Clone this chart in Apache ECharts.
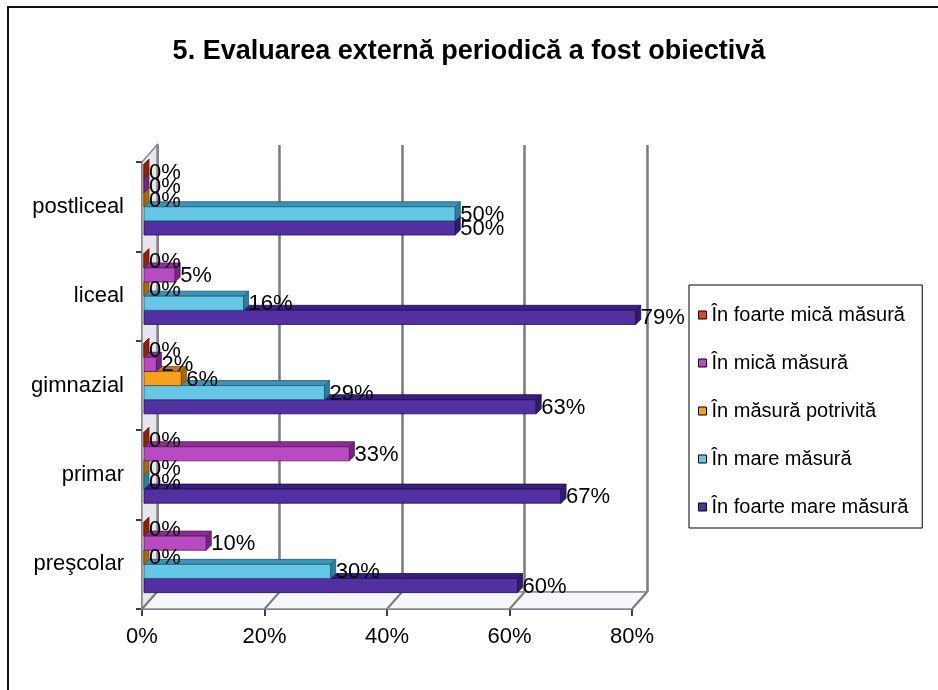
<!DOCTYPE html>
<html>
<head>
<meta charset="utf-8">
<script src="https://cdn.jsdelivr.net/npm/echarts@6/dist/echarts.min.js"></script>
<style>
  html, body { margin: 0; padding: 0; background: #fff; }
  #chart { width: 938px; height: 690px; }
</style>
</head>
<body>
<div id="chart"></div>
<script>
// Survey answers per school level (percent of respondents)
const categories = ['preşcolar', 'primar', 'gimnazial', 'liceal', 'postliceal'];
const seriesNames = [
  'În foarte mică măsură',
  'În mică măsură',
  'În măsură potrivită',
  'În mare măsură',
  'În foarte mare măsură'
];
const foarteMica = [0, 0, 0, 0, 0];
const mica = [10, 33, 2, 5, 0];
const potrivita = [0, 0, 6, 0, 0];
const mare = [30, 0, 29, 16, 50];
const foarteMare = [60, 67, 63, 79, 50];
const xTicks = [0, 20, 40, 60, 80];

const FONT = "'Liberation Sans', Arial, sans-serif";

// face colours: front, top, side, outline
const palette = [
  { front: '#E2421E', top: '#A82C12', side: '#8E240C', line: '#6A1A08' },
  { front: '#B84AC2', top: '#8A2E94', side: '#74267E', line: '#561C5E' },
  { front: '#F5A01E', top: '#C27A12', side: '#A8680E', line: '#7A4A08' },
  { front: '#66C6E6', top: '#3A94B6', side: '#2E7E9C', line: '#1E5A70' },
  { front: '#5230A2', top: '#3A1E80', side: '#321A6E', line: '#20104A' }
];
const valueSets = [foarteMica, mica, potrivita, mare, foarteMare];

const DEPTH = 5;       // bar extrusion
const WALL_DX = 15;    // frame depth offset
const WALL_DY = -17;

function barRenderer(idx) {
  const col = palette[idx];
  return function (params, api) {
    const v = api.value(0);
    const cat = api.value(1);
    const start = api.coord([0, cat]);
    const end = api.coord([v, cat]);
    const band = api.size([0, 1])[1];
    const step = band * 0.158;
    const yTop = start[1] - 2.5 * step + idx * step;
    const yBot = yTop + step;
    const x0 = start[0], x1 = end[0];
    const d = DEPTH;
    const zBase = 10 + (4 - idx) * 2;
    return {
      type: 'group',
      children: [
        {
          type: 'polygon', z2: zBase,
          shape: { points: [[x0, yTop], [x1, yTop], [x1 + d, yTop - d], [x0 + d, yTop - d]] },
          style: { fill: col.top, stroke: col.line, lineWidth: 0.8 }
        },
        {
          type: 'rect', z2: zBase,
          shape: { x: x0, y: yTop, width: x1 - x0, height: step },
          style: { fill: col.front, stroke: col.line, lineWidth: 0.8 }
        },
        {
          type: 'polygon', z2: zBase + 1,
          shape: { points: [[x1, yTop], [x1, yBot], [x1 + d, yBot - d], [x1 + d, yTop - d]] },
          style: { fill: col.side, stroke: col.line, lineWidth: 0.8 }
        },
        {
          type: 'text', z2: 60,
          style: {
            text: v + '%',
            x: x1 + d,
            y: (yTop + yBot) / 2 + 1,
            align: 'left',
            verticalAlign: 'middle',
            font: '22px ' + FONT,
            fill: '#000'
          }
        }
      ]
    };
  };
}

// series drawn bottom bar first so the upper bars cover the top faces
const barSeries = [4, 3, 2, 1, 0].map(function (idx) {
  return {
    type: 'custom',
    name: seriesNames[idx],
    xAxisIndex: 2,
    yAxisIndex: 2,
    z: 5,
    itemStyle: { color: palette[idx].front },
    encode: { x: 0, y: 1 },
    data: valueSets[idx].map(function (v, i) { return [v, i]; }),
    renderItem: barRenderer(idx)
  };
});

// left wall and floor of the plot box
const frameSeries = {
  type: 'custom',
  xAxisIndex: 0,
  yAxisIndex: 0,
  z: 1,
  silent: true,
  data: [[0, 0]],
  renderItem: function (params, api) {
    const cs = params.coordSys;
    const x = cs.x, y = cs.y, w = cs.width, h = cs.height;
    return {
      type: 'group',
      children: [
        {
          type: 'polygon',
          shape: { points: [[x, y + h], [x, y], [x + WALL_DX, y + WALL_DY], [x + WALL_DX, y + h + WALL_DY]] },
          style: { fill: '#e6e6ec', stroke: '#8a8a94', lineWidth: 1.5 }
        },
        {
          type: 'polygon',
          shape: { points: [[x, y + h], [x + w, y + h], [x + w + WALL_DX, y + h + WALL_DY], [x + WALL_DX, y + h + WALL_DY]] },
          style: { fill: '#f6f6fa', stroke: '#8a8a94', lineWidth: 1.5 }
        }
      ]
    };
  }
};

// diagonal floor lines joining front ticks to the back wall grid
const floorTickSeries = {
  type: 'custom',
  xAxisIndex: 0,
  yAxisIndex: 0,
  z: 2,
  silent: true,
  encode: { x: 0 },
  data: xTicks.map(function (t) { return [t, 0]; }),
  renderItem: function (params, api) {
    const cs = params.coordSys;
    const px = api.coord([api.value(0), 0])[0];
    const by = cs.y + cs.height;
    return {
      type: 'line',
      shape: { x1: px, y1: by, x2: px + WALL_DX, y2: by + WALL_DY },
      style: { stroke: '#7a7a84', lineWidth: 2 }
    };
  }
};

const chart = echarts.init(document.getElementById('chart'), null, { renderer: 'canvas' });

chart.setOption({
  backgroundColor: '#ffffff',
  animation: false,
  title: {
    text: '5. Evaluarea externă periodică a fost obiectivă',
    left: 'center',
    top: 33,
    textStyle: { fontFamily: FONT, fontSize: 27, fontWeight: 'bold', color: '#000' }
  },
  graphic: [
    {
      type: 'rect',
      shape: { x: 8, y: 7, width: 1200, height: 1200 },
      style: { fill: null, stroke: '#111', lineWidth: 2 },
      silent: true
    }
  ],
  legend: {
    orient: 'vertical',
    left: 689,
    top: 285,
    data: seriesNames,
    icon: 'rect',
    itemWidth: 8,
    itemHeight: 8,
    itemGap: 28,
    padding: [20, 14, 11, 9],
    borderColor: '#000',
    borderWidth: 1,
    itemStyle: { borderColor: '#000', borderWidth: 1 },
    textStyle: { fontFamily: FONT, fontSize: 20, color: '#000', lineHeight: 20 },
    selectedMode: false
  },
  grid: [
    { left: 142, top: 162, right: 306, bottom: 81 },
    { left: 157, top: 145, right: 291, bottom: 98 },
    { left: 144, top: 155, right: 296, bottom: 88 }
  ],
  xAxis: [
    {
      gridIndex: 0, type: 'value', min: 0, max: 80, interval: 20,
      axisLine: { show: true, lineStyle: { color: '#7a7a84', width: 2 } },
      axisTick: { show: true, length: 7, lineStyle: { color: '#000', width: 1.5 } },
      axisLabel: { formatter: '{value}%', fontFamily: FONT, fontSize: 22, color: '#000', margin: 17 },
      splitLine: { show: false }
    },
    {
      gridIndex: 1, type: 'value', min: 0, max: 80, interval: 20,
      axisLine: { show: true, lineStyle: { color: '#9a9aa4', width: 1.5 } },
      axisTick: { show: false },
      axisLabel: { show: false },
      splitLine: { show: true, lineStyle: { color: '#7a7a84', width: 2.5 } }
    },
    {
      gridIndex: 2, type: 'value', min: 0, max: 80, show: false
    }
  ],
  yAxis: [
    {
      gridIndex: 0, type: 'category', data: categories,
      axisLine: { show: true, lineStyle: { color: '#7a7a84', width: 2 } },
      axisTick: { show: true, length: 6, lineStyle: { color: '#000', width: 1.5 } },
      axisLabel: { fontFamily: FONT, fontSize: 22, color: '#000', margin: 18, padding: [6, 0, 0, 0] },
      splitLine: { show: false }
    },
    {
      gridIndex: 1, type: 'category', data: categories,
      axisLine: { show: true, lineStyle: { color: '#7a7a84', width: 2.5 } },
      axisTick: { show: false },
      axisLabel: { show: false },
      splitLine: { show: false }
    },
    {
      gridIndex: 2, type: 'category', data: categories, show: false
    }
  ],
  series: [frameSeries, floorTickSeries].concat(barSeries)
});
</script>
</body>
</html>
